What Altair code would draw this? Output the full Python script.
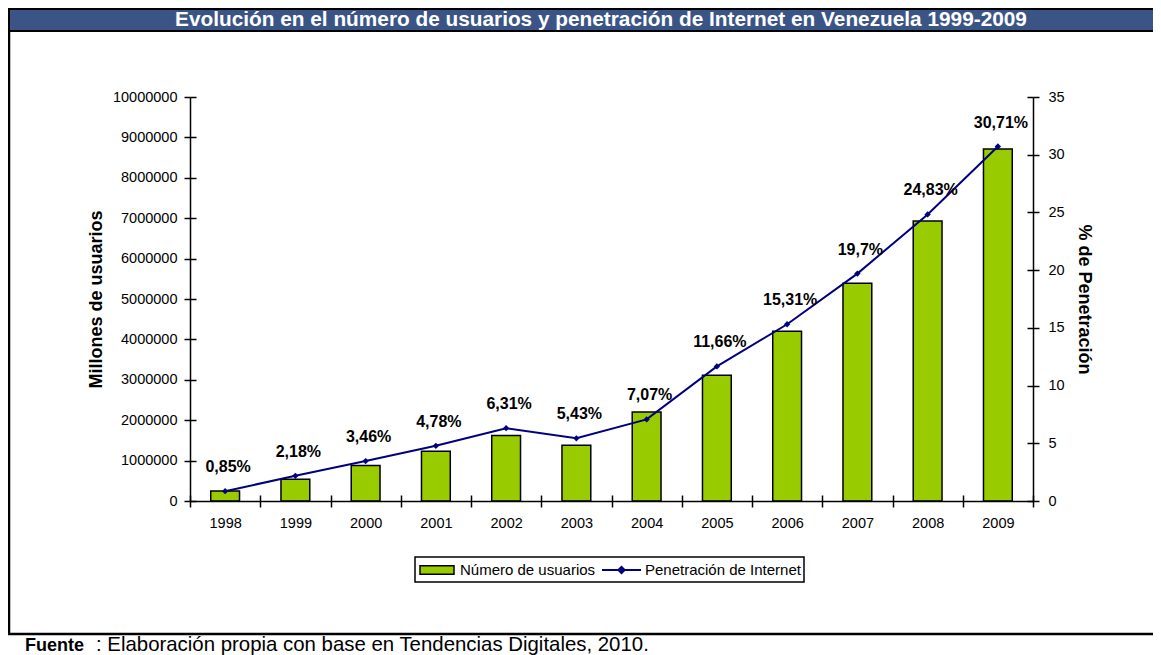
import altair as alt
import pandas as pd

years = ["1998", "1999", "2000", "2001", "2002", "2003", "2004", "2005", "2006", "2007", "2008", "2009"]
usuarios = [250000, 540000, 880000, 1230000, 1620000, 1380000, 2200000, 3110000, 4200000, 5390000, 6930000, 8710000]
penetracion = [0.85, 2.18, 3.46, 4.78, 6.31, 5.43, 7.07, 11.66, 15.31, 19.7, 24.83, 30.71]
etiquetas = ["0,85%", "2,18%", "3,46%", "4,78%", "6,31%", "5,43%", "7,07%", "11,66%", "15,31%", "19,7%", "24,83%", "30,71%"]
ticks_usuarios = [0, 1000000, 2000000, 3000000, 4000000, 5000000, 6000000, 7000000, 8000000, 9000000, 10000000]
ticks_pen = [0, 5, 10, 15, 20, 25, 30, 35]

titulo = "Evolución en el número de usuarios y penetración de Internet en Venezuela 1999-2009"
serie_barras = "Número de usuarios"
serie_linea = "Penetración de Internet"
fuente_b = "Fuente"
fuente_r = ": Elaboración propia con base en Tendencias Digitales, 2010."

FONT = "Liberation Sans"
GREEN = "#99CC00"
NAVY = "#000080"
BAND = "#3B5486"

df = pd.DataFrame({
    "year": years,
    "usuarios": usuarios,
    "pen": penetracion,
    "label": etiquetas,
    "s1": [serie_barras] * len(years),
    "s2": [serie_linea] * len(years),
})
one = pd.DataFrame({"k": [0]})

W, H = 843, 404
xscale = alt.Scale(paddingInner=0, paddingOuter=0)
uscale = alt.Scale(domain=[0, 10000000], nice=False)
pscale = alt.Scale(domain=[0, 35], nice=False)

x_enc = alt.X(
    "year:N", sort=years, title=None, scale=xscale,
    axis=alt.Axis(orient="bottom", labelAngle=0, tickBand="extent", tickSize=6, labelPadding=9,
                  domainColor="black", tickColor="black", labelColor="black",
                  labelFontSize=14.5, labelFont=FONT, domainWidth=1.5, tickWidth=1.5, zindex=1),
)
x_plain = alt.X("year:N", sort=years, axis=None)

base = alt.Chart(df)

bars = base.mark_bar(width=alt.RelativeBandSize(0.41), stroke="black", strokeWidth=1.5).encode(
    x=x_enc,
    y=alt.Y("usuarios:Q", scale=uscale,
            axis=alt.Axis(orient="left", values=ticks_usuarios, format="d", title="Millones de usuarios",
                          titleFontSize=18, titleFontWeight="bold", titleFont=FONT, titleColor="black",
                          titlePadding=7, labelFontSize=14.5, labelFont=FONT, labelColor="black",
                          tickSize=6, labelPadding=7, domainColor="black", tickColor="black",
                          domainWidth=1.5, tickWidth=1.5, grid=False, zindex=1)),
    fill=alt.Fill("s1:N", scale=alt.Scale(range=[GREEN]),
                  legend=alt.Legend(title=None, orient="none", legendX=229, legendY=455,
                                    symbolType="M-1,-0.25H1V0.25H-1Z", symbolSize=1156,
                                    symbolStrokeColor="black", symbolStrokeWidth=1.5,
                                    labelFontSize=15, labelFont=FONT, labelColor="black",
                                    labelOffset=5, padding=0)),
)

# inner halves of the crossing tick marks
ticks_left = base.mark_point(opacity=0).encode(
    x=alt.X("year:N", sort=years, scale=xscale,
            axis=alt.Axis(orient="bottom", offset=-6, tickBand="extent", labels=False, domain=False,
                          tickSize=6, tickColor="black", tickWidth=1.5, title=None, zindex=1)),
    y=alt.Y("usuarios:Q", scale=uscale,
            axis=alt.Axis(orient="left", offset=-6, values=ticks_usuarios, labels=False, domain=False,
                          tickSize=6, tickColor="black", tickWidth=1.5, title=None, grid=False, zindex=1)),
)
ticks_right = base.mark_point(opacity=0).encode(
    x=x_plain,
    y=alt.Y("pen:Q", scale=pscale,
            axis=alt.Axis(orient="right", offset=-6, values=ticks_pen, labels=False, domain=False,
                          tickSize=6, tickColor="black", tickWidth=1.5, title=None, grid=False, zindex=1)),
)

y_right = alt.Y("pen:Q", scale=pscale,
                axis=alt.Axis(orient="right", values=ticks_pen, title="% de Penetración",
                              titleFontSize=18, titleFontWeight="bold", titleFont=FONT, titleColor="black",
                              titlePadding=10, labelFontSize=14.5, labelFont=FONT, labelColor="black",
                              tickSize=6, labelPadding=9, domainColor="black", tickColor="black",
                              domainWidth=1.5, tickWidth=1.5, grid=False, zindex=1))
y_right_na = alt.Y("pen:Q", scale=pscale, axis=None)

line = base.mark_line(strokeWidth=2).encode(
    x=x_plain,
    y=y_right,
    stroke=alt.Stroke("s2:N", scale=alt.Scale(range=[NAVY]),
                      legend=alt.Legend(title=None, orient="none", legendX=411, legendY=452.5,
                                        symbolType="M-1,0H1M-0.16,0L0,-0.16L0.16,0L0,0.16Z", symbolSize=1521,
                                        symbolStrokeWidth=2, symbolFillColor=NAVY,
                                        labelFontSize=15, labelFont=FONT, labelColor="black",
                                        labelOffset=3, padding=0)),
)
pts = base.mark_point(shape="diamond", filled=True, size=40, color=NAVY, opacity=1).encode(
    x=x_plain, y=y_right_na)
txt = base.mark_text(dy=-24, dx=3, fontSize=16, fontWeight="bold", font=FONT, color="black").encode(
    x=x_plain, y=y_right_na, text="label:N")

frame = alt.Chart(one).mark_rect(fill="transparent", stroke="black", strokeWidth=2.5).encode(
    x=alt.value(-181), x2=alt.value(1000), y=alt.value(-88), y2=alt.value(537))
band = alt.Chart(one).mark_rect(fill=BAND, stroke="black", strokeWidth=2).encode(
    x=alt.value(-181), x2=alt.value(1000), y=alt.value(-88), y2=alt.value(-66))
title = alt.Chart(one).mark_text(text=titulo, fontSize=20.8, fontWeight="bold", font=FONT,
                                 color="white", align="center", baseline="middle").encode(
    x=alt.value(411), y=alt.value(-77))
legbox = alt.Chart(one).mark_rect(fill="transparent", stroke="black", strokeWidth=1.5).encode(
    x=alt.value(225), x2=alt.value(614), y=alt.value(460), y2=alt.value(485))
foot1 = alt.Chart(one).mark_text(text=fuente_b, fontSize=18, fontWeight="bold", font=FONT,
                                 color="black", align="left", baseline="alphabetic").encode(
    x=alt.value(-165), y=alt.value(554))
foot2 = alt.Chart(one).mark_text(text=fuente_r, fontSize=20.4, font=FONT,
                                 color="black", align="left", baseline="alphabetic").encode(
    x=alt.value(-94), y=alt.value(554))

chart = alt.layer(frame, band, title, legbox, foot1, foot2, bars, ticks_left, line, ticks_right, pts, txt).resolve_scale(
    y="independent"
).resolve_axis(
    x="independent", y="independent"
).properties(
    width=W, height=H,
    padding={"left": 182, "top": 89, "right": 120, "bottom": 154},
    autosize=alt.AutoSizeParams(type="none"),
    background="white",
).configure_view(stroke=None)

chart.save("out.html", embed_options={"renderer": "svg", "actions": False})
